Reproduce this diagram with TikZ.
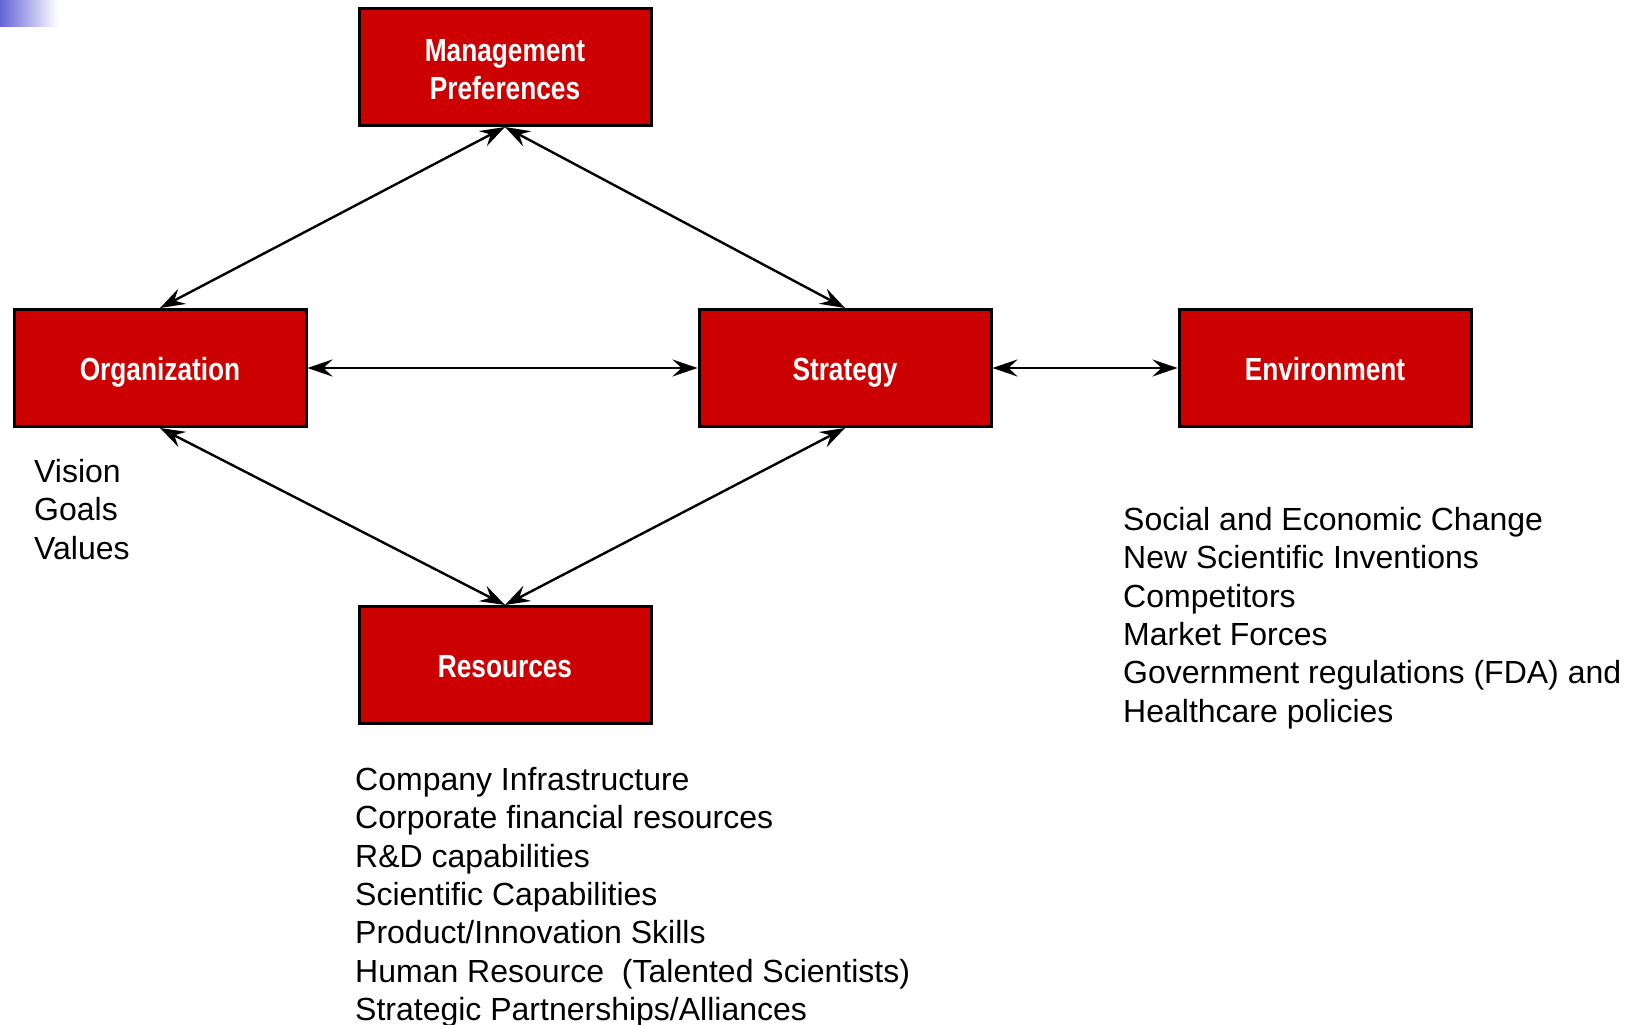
\documentclass[tikz,border=0pt]{standalone}
\usepackage{fontspec}
\setmainfont{Liberation Sans}
\newfontfamily\boxfont{Liberation Sans}[FakeStretch=0.82]
\usetikzlibrary{arrows.meta}
\definecolor{boxred}{RGB}{204,0,0}
\definecolor{cornerblue}{RGB}{100,100,215}
\begin{document}
\begin{tikzpicture}[x=1pt,y=-1pt,
  block/.style={draw=black, line width=3pt, fill=boxred, minimum width=292pt,
    minimum height=117pt, inner sep=0pt, text=white, align=center,
    text height=25pt, text depth=0pt,
    font=\boxfont\bfseries\fontsize{32}{38}\selectfont},
  link/.style={line width=2.4pt,
    {Stealth[length=25pt,width=17pt,inset=9pt]}-{Stealth[length=25pt,width=17pt,inset=9pt]}},
  notes/.style={anchor=north west, inner sep=0pt, align=left,
    font=\fontsize{32}{38.4}\selectfont}]
\useasboundingbox (0,0) rectangle (1636,1025);
% corner ornament
\shade[left color=cornerblue, right color=white] (0,0) rectangle (58,27);

% boxes
\node[block, text height=65pt] (mgmt) at (505,67) {Management\\Preferences};
\node[block] (org)   at (160,368) {Organization};
\node[block] (strat) at (845,368) {Strategy};
\node[block] (env)   at (1325,368) {Environment};
\node[block] (res)   at (505,665) {Resources};

% connectors
\draw[link] (mgmt.south) -- (org.north);
\draw[link] (mgmt.south) -- (strat.north);
\draw[link] (org.east) -- (strat.west);
\draw[link] (strat.east) -- (env.west);
\draw[link] (org.south) -- (res.north);
\draw[link] (strat.south) -- (res.north);

% lists
\node[notes] (orgnotes) at (34,459) {Vision\\Goals\\Values};
\node[notes] (envnotes) at (1123,507) {Social and Economic Change\\New Scientific Inventions\\Competitors\\Market Forces\\Government regulations (FDA) and\\Healthcare policies};
\node[notes] (resnotes) at (355,767) {Company Infrastructure\\Corporate financial resources\\R\&D capabilities\\Scientific Capabilities\\Product/Innovation Skills\\Human Resource\ \ (Talented Scientists)\\Strategic Partnerships/Alliances};
\end{tikzpicture}
\end{document}
